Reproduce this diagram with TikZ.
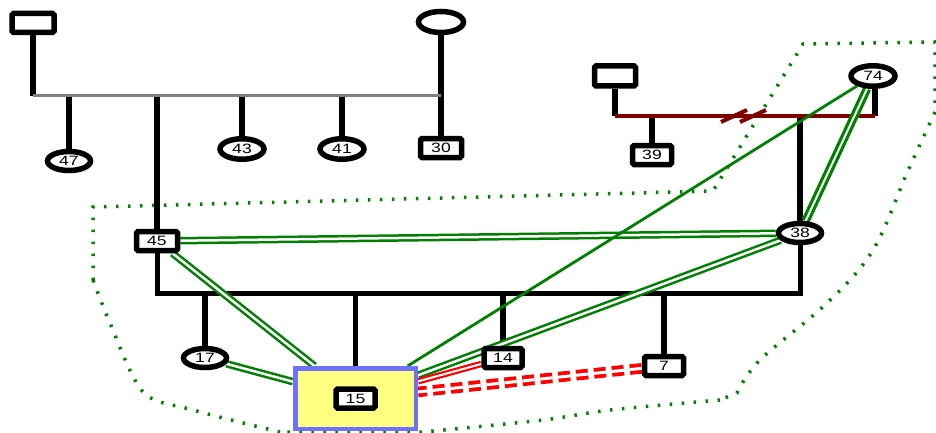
\documentclass[tikz,border=0pt]{standalone}
\usepackage{fontspec}
\setmainfont{Liberation Sans}[FakeStretch=1.3]
\usetikzlibrary{shapes,positioning,calc,backgrounds}
\definecolor{bondgreen}{RGB}{0,128,0}
\definecolor{conflictred}{RGB}{255,0,0}
\definecolor{splitmaroon}{RGB}{128,0,0}
\definecolor{focusyellow}{RGB}{255,255,128}
\definecolor{focusblue}{RGB}{112,112,255}

\begin{document}
\begin{tikzpicture}[x=1pt, y=-1pt,
    male/.style={draw, line width=5.5pt, rounded corners=1.5pt, fill=white, minimum width=41pt, minimum height=19pt, inner sep=0pt, font=\fontsize{13.5}{14}\selectfont},
    female/.style={ellipse, draw, line width=5.5pt, fill=white, minimum width=43pt, minimum height=19pt, inner sep=0pt, font=\fontsize{13.5}{14}\selectfont},
    focusbox/.style={draw=focusblue, fill=focusyellow, line width=4.5pt, minimum width=120.5pt, minimum height=60.5pt},
    kin/.style={line width=5.5pt},
    bond/.style={bondgreen, line width=2.5pt, double=white, double distance=2.5pt},
    strongbond/.style={bondgreen, line width=3.2pt, double=white, double distance=2pt},
    tie/.style={bondgreen, line width=2.8pt},
    hostile/.style={conflictred, line width=2.2pt, double=white, double distance=2pt},
    rift/.style={conflictred, line width=3.8pt, double=white, double distance=3pt, dash pattern=on 12pt off 6pt},
    fence/.style={bondgreen, line width=3.5pt, dash pattern=on 2.5pt off 9.5pt}]
    \useasboundingbox (0,0) rectangle (936,433);

    % Grandparents on the left
    \node[male, minimum width=42pt] (fa1) at (33,23) {};
    \node[female, minimum width=45pt, minimum height=21pt] (mo1) at (441,22) {};
    \coordinate (m1l) at (33,96);
    \coordinate (m1r) at (441,96);
    \node[female] (n47) at (69,161) {47};
    \node[male] (n45) at (157,241) {45};
    \node[female, minimum width=44pt, minimum height=20.5pt] (n43) at (242,149) {43};
    \node[female, minimum width=44pt, minimum height=20.5pt] (n41) at (342,149) {41};
    \node[male] (n30) at (441,148) {30};

    % Grandparents on the right
    \node[male, minimum height=20pt] (fa2) at (615,76) {};
    \coordinate (m2l) at (615,116);
    \coordinate (m2r) at (875,116);
    \node[male, minimum width=39pt] (n39) at (652,155) {39};
    \node[female, minimum width=44pt, minimum height=20.5pt] (n74) at (873,76) {74};
    \node[female] (n38) at (800,233) {38};

    % Children of 45 and 38
    \coordinate (s3l) at (157,293);
    \coordinate (s3r) at (800,293);
    \node[female] (n17) at (205,358) {17};
    \node[focusbox] (focus) at (355.5,398.5) {};
    \node[male, minimum width=39pt] (n15) at (focus) {15};
    \node[male, minimum width=38pt] (n14) at (503,358) {14};
    \node[male, minimum width=39pt] (n7) at (664,366) {7};

    \begin{scope}[on background layer]
        % Boundary of the household
        \draw[fence] (93,280) -- (93,207) -- (713,191) -- (803,44) -- (935,42) -- (935,112)
            plot[smooth, tension=0.6] coordinates {(935,112) (907,173) (873,250) (827,303) (760,360) (737,393)}
            -- (720,400) plot[smooth] coordinates {(720,400) (610,410) (543,420) (423,432)}
            -- (280,432) plot[smooth] coordinates {(280,432) (193,410) (143,392) (110,323) (93,280)};

        % Family lines
        \draw[kin] (fa1) -- (m1l);
        \draw[kin] (mo1) -- (n30);
        \foreach \kid in {n47,n45,n43,n41}
            \draw[kin] (m1l -| \kid) -- (\kid);
        \draw[kin] (fa2) -- (m2l);
        \draw[kin] (m2r) -- (m2r |- n74.south);
        \draw[kin] (m2l -| n39) -- (n39);
        \draw[kin] (m2l -| n38) -- (n38);
        \draw[kin, line width=5pt] (n45) -- (s3l) -- (s3r) -- (n38);
        \foreach \kid in {n17,focus,n14,n7}
            \draw[kin] (s3l -| \kid) -- (\kid);
        \draw[gray, line width=3pt] (m1l) -- (m1r);
        \draw[splitmaroon, line width=3.5pt] (m2l) -- (m2r);
        \foreach \bx in {734,753}
            \draw[splitmaroon, line width=4pt] (\bx-13,122) -- (\bx+13,110);

        % Emotional relationships
        \draw[bond] (n45) -- (n38);
        \draw[bond] (n45) -- (focus);
        \draw[bond] (n17) -- (focus);
        \draw[bond] (n38) -- (focus);
        \draw[strongbond] (n74) -- (n38);
        \draw[tie] (n74) -- (focus);
        \draw[hostile] (n14) -- (focus);
        \draw[rift] (n7) -- (focus);
    \end{scope}
\end{tikzpicture}
\end{document}
